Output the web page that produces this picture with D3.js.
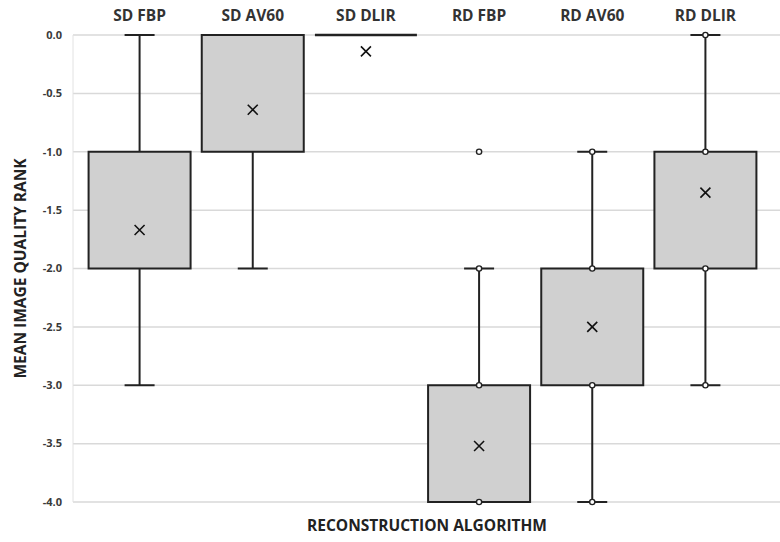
<!DOCTYPE html>
<html>
<head>
<meta charset="utf-8">
<script src="https://cdn.jsdelivr.net/npm/d3@7"></script>
<style>
  body { margin: 0; background: #fff; }
  text { font-family: "Open Sans", "DejaVu Sans", sans-serif; }
</style>
</head>
<body>
<div id="chart"></div>
<script>
const categories = ["SD FBP", "SD AV60", "SD DLIR", "RD FBP", "RD AV60", "RD DLIR"];
// box summary per category (whisker low, q1, q3, whisker high)
const whiskerLow = [-3, -2, 0, -2, -4, -3];
const q1 = [-2, -1, 0, -4, -3, -2];
const q3 = [-1, 0, 0, -3, -2, -1];
const whiskerHigh = [0, 0, 0, -2, -1, 0];
const means = [-1.67, -0.64, -0.14, -3.52, -2.5, -1.35];
// plotted data points (inner points + outliers), only shown for RD series
const points = [[], [], [], [-1, -2, -3, -4], [-1, -2, -3, -4], [0, -1, -2, -3]];
const yTicks = [0, -0.5, -1, -1.5, -2, -2.5, -3, -3.5, -4];

const W = 780, H = 542;
const margin = { top: 35, right: 0, bottom: 40, left: 73 };

const svg = d3.select("#chart").append("svg")
  .attr("width", W)
  .attr("height", H);

const x = d3.scaleBand()
  .domain(categories)
  .range([83, 762]);

const y = d3.scaleLinear()
  .domain([-4, 0])
  .range([502, 35]);

// gridlines
svg.append("g")
  .selectAll("line")
  .data(yTicks)
  .join("line")
  .attr("x1", margin.left)
  .attr("x2", W)
  .attr("y1", d => y(d))
  .attr("y2", d => y(d))
  .attr("stroke", "#d9d9d9")
  .attr("stroke-width", 1.5);

svg.append("line")
  .attr("x1", margin.left).attr("x2", margin.left)
  .attr("y1", y(0)).attr("y2", y(-4))
  .attr("stroke", "#e2e2e2")
  .attr("stroke-width", 1);

// y tick labels (plain hyphen like the original)
svg.append("g")
  .selectAll("text")
  .data(yTicks)
  .join("text")
  .attr("x", 62)
  .attr("y", d => y(d))
  .attr("dy", "0.35em")
  .attr("text-anchor", "end")
  .attr("font-size", 11)
  .attr("font-weight", "bold")
  .attr("fill", "#3a3a3a")
  .text(d => d3.format(".1f")(d).replace("\u2212", "-"));

// category labels at top
svg.append("g")
  .selectAll("text")
  .data(categories)
  .join("text")
  .attr("x", d => x(d) + x.bandwidth() / 2)
  .attr("y", 21)
  .attr("text-anchor", "middle")
  .attr("font-size", 15.5)
  .attr("font-weight", "bold")
  .attr("fill", "#333")
  .text(d => d);

const boxW = 102, capW = 30;
const ink = "#222";

const groups = svg.append("g")
  .selectAll("g")
  .data(categories.map((c, i) => ({
    c, lo: whiskerLow[i], q1: q1[i], q3: q3[i], hi: whiskerHigh[i], mean: means[i], pts: points[i]
  })))
  .join("g")
  .attr("transform", d => `translate(${x(d.c) + x.bandwidth() / 2},0)`);

groups.each(function(d) {
  const g = d3.select(this);
  if (d.hi > d.q3) {
    g.append("line").attr("x1", 0).attr("x2", 0)
      .attr("y1", y(d.q3)).attr("y2", y(d.hi))
      .attr("stroke", ink).attr("stroke-width", 2);
    g.append("line").attr("x1", -capW / 2).attr("x2", capW / 2)
      .attr("y1", y(d.hi)).attr("y2", y(d.hi))
      .attr("stroke", ink).attr("stroke-width", 2);
  }
  if (d.lo < d.q1) {
    g.append("line").attr("x1", 0).attr("x2", 0)
      .attr("y1", y(d.q1)).attr("y2", y(d.lo))
      .attr("stroke", ink).attr("stroke-width", 2);
    g.append("line").attr("x1", -capW / 2).attr("x2", capW / 2)
      .attr("y1", y(d.lo)).attr("y2", y(d.lo))
      .attr("stroke", ink).attr("stroke-width", 2);
  }
  if (d.q3 > d.q1) {
    g.append("rect")
      .attr("x", -boxW / 2)
      .attr("y", y(d.q3))
      .attr("width", boxW)
      .attr("height", y(d.q1) - y(d.q3))
      .attr("fill", "#d0d0d0")
      .attr("stroke", ink)
      .attr("stroke-width", 2);
  } else {
    g.append("line").attr("x1", -boxW / 2).attr("x2", boxW / 2)
      .attr("y1", y(d.q3)).attr("y2", y(d.q3))
      .attr("stroke", ink).attr("stroke-width", 2.5);
  }
  // mean marker
  const m = 5;
  g.append("path")
    .attr("d", `M${-m},${y(d.mean) - m}L${m},${y(d.mean) + m}M${m},${y(d.mean) - m}L${-m},${y(d.mean) + m}`)
    .attr("stroke", "#111")
    .attr("stroke-width", 1.6)
    .attr("fill", "none");
  g.selectAll("circle")
    .data(d.pts)
    .join("circle")
    .attr("cx", 0)
    .attr("cy", p => y(p))
    .attr("r", 2.6)
    .attr("fill", "#fff")
    .attr("stroke", ink)
    .attr("stroke-width", 1.4);
});

// axis titles
svg.append("text")
  .attr("transform", `translate(26,${(y(0) + y(-4)) / 2}) rotate(-90)`)
  .attr("text-anchor", "middle")
  .attr("font-size", 15.5)
  .attr("font-weight", "bold")
  .attr("fill", "#222")
  .text("MEAN IMAGE QUALITY RANK");

svg.append("text")
  .attr("x", 427)
  .attr("y", 531)
  .attr("text-anchor", "middle")
  .attr("font-size", 15.5)
  .attr("font-weight", "bold")
  .attr("fill", "#222")
  .text("RECONSTRUCTION ALGORITHM");
</script>
</body>
</html>
